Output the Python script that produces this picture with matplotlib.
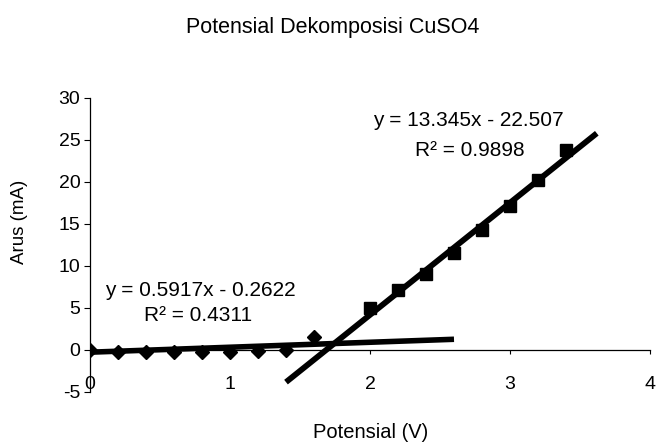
import matplotlib
matplotlib.use("Agg")
import matplotlib.pyplot as plt
import numpy as np

plt.rcParams['font.family'] = ['Liberation Sans', 'DejaVu Sans']

# Data
x_low = [0.0, 0.2, 0.4, 0.6, 0.8, 1.0, 1.2, 1.4, 1.6]
y_low = [0.0, -0.2, -0.2, -0.2, -0.2, -0.2, -0.1, 0.0, 1.6]
x_high = [2.0, 2.2, 2.4, 2.6, 2.8, 3.0, 3.2, 3.4]
y_high = [5.0, 7.2, 9.1, 11.5, 14.3, 17.1, 20.2, 23.8]

# Trendline coefficients (slope, intercept) and drawn ranges
fit_low = [0.5917, -0.2622]
fit_high = [13.345, -22.507]
range_low = [0.0, 2.6]
range_high = [1.4, 3.62]

eq_low = ["y = 0.5917x - 0.2622", "R\u00b2 = 0.4311"]
eq_high = ["y = 13.345x - 22.507", "R\u00b2 = 0.9898"]

title = "Potensial Dekomposisi CuSO4"
xlabel = "Potensial (V)"
ylabel = "Arus (mA)"
xticks = [0, 1, 2, 3, 4]
yticks = [-5, 0, 5, 10, 15, 20, 25, 30]

fig = plt.figure(figsize=(6.57, 4.46), dpi=100)
ax = fig.add_axes([90/657, 1-392/446, (650-90)/657, (392-98)/446])
ax.set_xlim(0, 4)
ax.set_ylim(-5, 30)

# trendlines
xl = np.array(range_low)
ax.plot(xl, fit_low[0]*xl + fit_low[1], color='black', lw=4.0, zorder=3, solid_capstyle='butt')
xh = np.array(range_high)
ax.plot(xh, fit_high[0]*xh + fit_high[1], color='black', lw=4.2, zorder=3, solid_capstyle='butt')

# data markers
ax.plot(x_low, y_low, linestyle='none', marker='D', markersize=7.5, color='black', zorder=4)
ax.plot(x_high, y_high, linestyle='none', marker='s', markersize=9, color='black', zorder=4)

# spines
for s in ['top', 'right']:
    ax.spines[s].set_visible(False)
ax.spines['bottom'].set_position(('data', 0))
ax.spines['left'].set_position(('data', 0))
ax.spines['bottom'].set_linewidth(0.9)
ax.spines['left'].set_linewidth(0.9)

ax.set_xticks(xticks)
ax.set_yticks(yticks)
ax.set_xticklabels([str(t) for t in xticks])
ax.set_yticklabels([str(t) for t in yticks])
ax.tick_params(axis='x', direction='out', length=3, width=0.8, pad=16, labelsize=14)
ax.tick_params(axis='y', direction='out', length=4, width=0.8, pad=3, labelsize=14)

# equations
ax.text(2.7, 27.3, eq_high[0], ha='center', va='center', fontsize=15)
ax.text(2.71, 23.8, eq_high[1], ha='center', va='center', fontsize=15)
ax.text(0.785, 7.1, eq_low[0], ha='center', va='center', fontsize=15)
ax.text(0.77, 4.1, eq_low[1], ha='center', va='center', fontsize=15)

fig.text(333/657, 1-28/446, title, ha='center', va='center', fontsize=15.5)
fig.text(371/657, 1-432/446, xlabel, ha='center', va='center', fontsize=14.5)
fig.text(20/657, 1-222/446, ylabel, ha='center', va='center', fontsize=13.5, rotation=90)

fig.savefig("out.png", dpi=100)
